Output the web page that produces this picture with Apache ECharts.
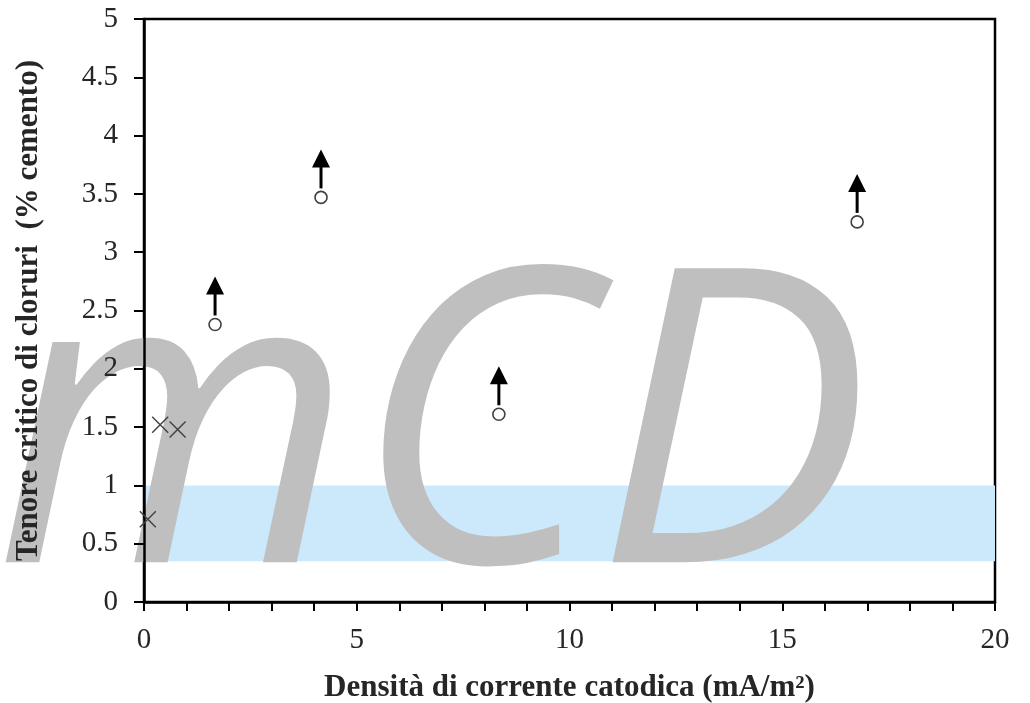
<!DOCTYPE html>
<html>
<head>
<meta charset="utf-8">
<script src="https://cdn.jsdelivr.net/npm/echarts@6/dist/echarts.min.js"></script>
<style>
  html, body { margin: 0; padding: 0; background: #ffffff; }
  #chart { width: 1030px; height: 703px; }
</style>
</head>
<body>
<div id="chart"></div>
<script>
// Soglie di cloruri misurate senza innesco di corrosione (limite inferiore: freccia verso l'alto)
const openPointsX = [1.67, 4.16, 8.34, 16.76];
const openPointsY = [2.38, 3.47, 1.61, 3.26];

// Soglie di cloruri misurate con innesco di corrosione
const crossPointsX = [0.09, 0.38, 0.79];
const crossPointsY = [0.71, 1.52, 1.48];

// Intervallo tipico del tenore critico senza protezione
const bandRange = [0.35, 1.0];

const xTicks = [0, 5, 10, 15, 20];
const yTicks = [0, 0.5, 1, 1.5, 2, 2.5, 3, 3.5, 4, 4.5, 5];

const xTitle = 'Densità di corrente catodica (mA/m²)';
const yTitle = 'Tenore critico di cloruri  (% cemento)';
const watermark = 'mCD';

const serif = '"Liberation Serif", "Times New Roman", serif';
const ink = '#262626';
const markerInk = '#404040';

const chart = echarts.init(document.getElementById('chart'), null, { renderer: 'canvas' });

const openData = openPointsX.map((x, i) => [x, openPointsY[i]]);
const crossData = crossPointsX.map((x, i) => [x, crossPointsY[i]]);

const option = {
  animation: false,
  backgroundColor: '#ffffff',
  grid: {
    left: 144, right: 35, top: 19, bottom: 101,
    outerBoundsMode: 'none',
    containLabel: false,
    show: true, borderColor: '#000000', borderWidth: 2.5, backgroundColor: 'transparent'
  },
  graphic: [{
    type: 'text',
    z: 2,
    x: -6,
    y: 445,
    silent: true,
    style: {
      text: watermark,
      font: 'italic 412px "Open Sans"',
      fill: '#bfbfbf',
      textAlign: 'left',
      verticalAlign: 'middle'
    }
  }],
  xAxis: {
    type: 'value',
    min: xTicks[0], max: xTicks[xTicks.length - 1], interval: 5,
    z: 5,
    name: xTitle,
    nameLocation: 'middle',
    nameGap: 70,
    nameTextStyle: { fontFamily: serif, fontSize: 31, fontWeight: 'bold', color: ink },
    axisLine: { show: true, onZero: false, lineStyle: { color: '#000000', width: 2.5 } },
    axisTick: { show: true, inside: false, length: 9, lineStyle: { color: '#000000', width: 2 } },
    minorTick: { show: true, splitNumber: 5, length: 9, lineStyle: { color: '#000000', width: 2 } },
    splitLine: { show: false },
    axisLabel: { fontFamily: serif, fontSize: 29, color: ink, margin: 24 }
  },
  yAxis: {
    type: 'value',
    min: yTicks[0], max: yTicks[yTicks.length - 1], interval: 0.5,
    z: 5,
    name: yTitle,
    nameLocation: 'middle',
    nameGap: 100,
    nameTextStyle: { fontFamily: serif, fontSize: 31, fontWeight: 'bold', color: ink },
    axisLine: { show: true, onZero: false, lineStyle: { color: '#000000', width: 2.5 } },
    axisTick: { show: true, inside: false, length: 10, lineStyle: { color: '#000000', width: 2 } },
    splitLine: { show: false },
    axisLabel: { fontFamily: serif, fontSize: 29, color: ink, margin: 26 }
  },
  series: [
    {
      // fascia azzurra
      type: 'line',
      z: 1,
      data: [],
      silent: true,
      markArea: {
        silent: true,
        itemStyle: { color: '#cce9fb' },
        data: [[
          { xAxis: xTicks[0], yAxis: bandRange[0] },
          { xAxis: xTicks[xTicks.length - 1], yAxis: bandRange[1] }
        ]]
      }
    },
    {
      // frecce: il valore è un limite inferiore
      type: 'custom',
      z: 6,
      silent: true,
      data: openData,
      renderItem: function (params, api) {
        const p = api.coord([api.value(0), api.value(1)]);
        const cx = p[0], cy = p[1];
        return {
          type: 'group',
          children: [
            {
              type: 'line',
              shape: { x1: cx, y1: cy - 9, x2: cx, y2: cy - 32 },
              style: { stroke: '#000000', lineWidth: 3 }
            },
            {
              type: 'polygon',
              shape: { points: [[cx, cy - 48], [cx - 9, cy - 30], [cx + 9, cy - 30]] },
              style: { fill: '#000000' }
            }
          ]
        };
      }
    },
    {
      type: 'scatter',
      z: 7,
      data: openData,
      symbol: 'circle',
      symbolSize: 12,
      itemStyle: { color: '#ffffff', borderColor: markerInk, borderWidth: 1.6, opacity: 1 }
    },
    {
      type: 'scatter',
      z: 7,
      data: crossData,
      symbol: 'path://M0,0L10,10M10,0L0,10',
      symbolSize: 16,
      itemStyle: { color: 'none', borderColor: markerInk, borderWidth: 1.4, opacity: 1 }
    }
  ]
};

chart.setOption(option);
</script>
</body>
</html>
